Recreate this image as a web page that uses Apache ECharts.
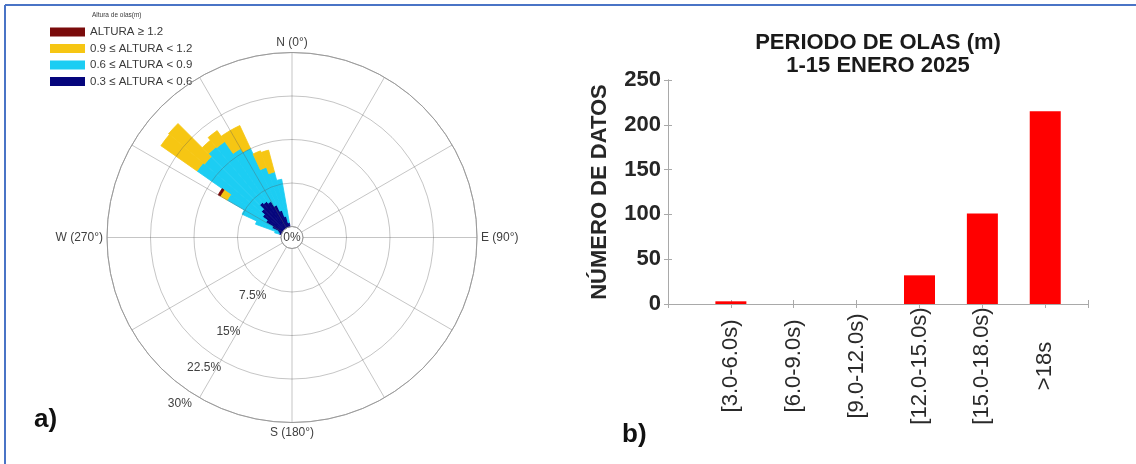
<!DOCTYPE html>
<html>
<head>
<meta charset="utf-8">
<script src="https://cdn.jsdelivr.net/npm/echarts@6/dist/echarts.min.js"></script>
<style>
  html, body { margin: 0; padding: 0; background: #ffffff; }
  #main { width: 1136px; height: 464px; }
</style>
</head>
<body>
<div id="main"></div>
<script>
// ---- a) Wave-height rose: 5° direction bins, percentage of records per height class ----
const dirBins   = [285, 290, 295, 300, 305, 310, 315, 320, 325, 330, 335, 340, 345];
const h03to06   = [0.4, 0.7, 1.9, 3.3, 4.3, 5.0, 6.0, 5.7, 5.3, 4.3, 3.1, 1.9, 0.7];
const h06to09   = [0.8, 4.1, 5.7, 7.7, 13.8, 12.8, 12.5, 12.6, 10.5, 10.8, 7.9, 7.9, 7.6];
const h09to12   = [0, 0, 0, 1.4, 7.6, 8.1, 1.5, 2.3, 3.6, 4.3, 3.0, 3.9, 0];
const h12plus   = [0, 0, 0, 0.4, 0, 0, 0, 0, 0, 0, 0, 0, 0];
const heightClasses = ['0.3 ≤ ALTURA < 0.6', '0.6 ≤ ALTURA < 0.9', '0.9 ≤ ALTURA < 1.2', 'ALTURA ≥ 1.2'];
const radialTicks = [7.5, 15, 22.5, 30];
const compassLabels = { 0: 'N (0°)', 90: 'E (90°)', 180: 'S (180°)', 270: 'W (270°)' };

// ---- b) Wave-period histogram ----
const periodClasses = ['[3.0-6.0s)', '[6.0-9.0s)', '[9.0-12.0s)', '[12.0-15.0s)', '[15.0-18.0s)', '>18s'];
const periodCounts  = [3, 0, 0, 32, 101, 215];

const FONT = 'Liberation Sans, Arial, Helvetica, sans-serif';
const ROSE_CENTER = [292, 237.5];
const ROSE_RADIUS = [11, 185];
const BIN_WIDTH = 5;

const bandColors = ['#05057c', '#1ccdf3', '#f6c613', '#7a0b0b'];
const bandValues = [h03to06, h06to09, h09to12, h12plus];

// Stacked sectors: [binStart, base, top] per height class
function sectorRows(bandIdx) {
  const rows = [];
  dirBins.forEach((b, j) => {
    const v = bandValues[bandIdx][j];
    if (!(v > 0)) return;
    let base = 0;
    for (let k = 0; k < bandIdx; k++) base += bandValues[k][j];
    rows.push([b, base, base + v]);
  });
  return rows;
}

function renderSector(params, api) {
  const cs = params.coordSys;
  const cx = cs.cx, cy = cs.cy;
  const a0 = api.value(0), a1 = a0 + BIN_WIDTH;
  const pIn  = api.coord([api.value(1), a0]);
  const pOut = api.coord([api.value(2), a0]);
  const pEnd = api.coord([api.value(2), a1]);
  const r0 = Math.hypot(pIn[0] - cx, pIn[1] - cy);
  const r = Math.hypot(pOut[0] - cx, pOut[1] - cy);
  const t0 = Math.atan2(pOut[1] - cy, pOut[0] - cx);
  const t1 = Math.atan2(pEnd[1] - cy, pEnd[0] - cx);
  const fill = api.visual('color');
  return {
    type: 'sector',
    shape: { cx: cx, cy: cy, r0: r0, r: r, startAngle: t0, endAngle: t1, clockwise: true },
    // stroke in the fill colour closes the anti-aliasing seams between neighbouring sectors
    style: { fill: fill, stroke: fill, lineWidth: 0.8 }
  };
}

const roseSeries = heightClasses.map((name, i) => ({
  type: 'custom',
  name: name,
  coordinateSystem: 'polar',
  polarIndex: 0,
  data: sectorRows(i),
  encode: { angle: 0, radius: [1, 2] },
  renderItem: renderSector,
  itemStyle: { color: bandColors[i] },
  z: 2
}));

const gridGray = 'rgba(90,90,90,0.35)';
const frameGray = '#a9a9a9';

const chart = echarts.init(document.getElementById('main'), null, { renderer: 'canvas' });

chart.setOption({
  animation: false,
  backgroundColor: '#ffffff',
  textStyle: { fontFamily: FONT },
  legend: {
    data: heightClasses.map((n, i) => ({ name: n, itemStyle: { color: bandColors[i] } })).reverse(),
    orient: 'vertical',
    left: 50,
    top: 26,
    padding: 0,
    itemWidth: 35,
    itemHeight: 9,
    itemGap: 4.5,
    icon: 'rect',
    selectedMode: false,
    textStyle: { fontSize: 11.5, lineHeight: 11, color: '#3a3a3a', fontFamily: FONT }
  },
  polar: [{ center: ROSE_CENTER, radius: ROSE_RADIUS }],
  angleAxis: [
    {
      polarIndex: 0,
      type: 'value',
      min: 0,
      max: 360,
      interval: 30,
      startAngle: 90,
      clockwise: true,
      z: 10,
      axisLine: { show: true, lineStyle: { color: '#9a9a9a', width: 1 } },
      axisTick: { show: false },
      splitLine: { show: true, lineStyle: { color: gridGray, width: 1 } },
      axisLabel: {
        margin: 4,
        fontSize: 12,
        color: '#404040',
        fontFamily: FONT,
        formatter: v => compassLabels[v] || ''
      }
    }
  ],
  radiusAxis: [
    {
      polarIndex: 0,
      type: 'value',
      min: 0,
      max: 30,
      interval: 7.5,
      z: 10,
      axisLine: { show: false },
      axisTick: { show: false },
      axisLabel: { show: false },
      splitLine: { show: true, lineStyle: { color: gridGray, width: 1 } }
    }
  ],
  grid: [{ left: 668, right: 48, top: 80, bottom: 160, containLabel: false }],
  xAxis: [
    {
      gridIndex: 0,
      type: 'value',
      position: 'bottom',
      min: 0,
      max: 6.68,
      interval: 1,
      axisLine: { show: true, lineStyle: { color: frameGray } },
      axisTick: { show: true, inside: true, length: 4, lineStyle: { color: frameGray } },
      splitLine: { show: false },
      axisLabel: {
        rotate: 90,
        align: 'center',
        verticalAlign: 'middle',
        margin: 62,
        fontSize: 22,
        color: '#2a2a2a',
        fontFamily: FONT,
        formatter: v => (Number.isInteger(v) && v >= 1 && v <= periodClasses.length) ? periodClasses[v - 1] : ''
      }
    },
    {
      gridIndex: 0,
      type: 'value',
      position: 'top',
      min: 0,
      max: 6.68,
      interval: 1,
      axisLine: { show: true, lineStyle: { color: frameGray } },
      axisTick: { show: true, inside: true, length: 4, lineStyle: { color: frameGray } },
      splitLine: { show: false },
      axisLabel: { show: false }
    }
  ],
  yAxis: [
    {
      gridIndex: 0,
      type: 'value',
      position: 'left',
      min: 0,
      max: 250,
      interval: 50,
      axisLine: { show: true, lineStyle: { color: frameGray } },
      axisTick: { show: true, inside: true, length: 4, lineStyle: { color: frameGray } },
      splitLine: { show: false },
      axisLabel: { fontSize: 22, fontWeight: 'bold', color: '#262626', margin: 7, fontFamily: FONT },
      name: 'NÚMERO DE DATOS',
      nameLocation: 'middle',
      nameRotate: 90,
      nameGap: 57,
      nameTextStyle: { fontSize: 22, fontWeight: 'bold', color: '#262626', fontFamily: FONT }
    },
    {
      gridIndex: 0,
      type: 'value',
      position: 'right',
      min: 0,
      max: 250,
      interval: 50,
      axisLine: { show: true, lineStyle: { color: frameGray } },
      axisTick: { show: true, inside: true, length: 4, lineStyle: { color: frameGray } },
      splitLine: { show: false },
      axisLabel: { show: false }
    }
  ],
  series: roseSeries.concat([
    {
      type: 'bar',
      name: 'Número de datos',
      xAxisIndex: 0,
      yAxisIndex: 0,
      barWidth: 31,
      data: periodCounts.map((v, i) => [i + 1, v]),
      itemStyle: { color: '#ff0000' }
    }
  ])
});

// Radial percentage labels along the 214° ray, just outside each ring
const radialLabelAngle = 214;
const radialLabelOffset = 2.7;
const radialLabels = radialTicks.map(t => {
  const p = chart.convertToPixel({ polarIndex: 0 }, [t + radialLabelOffset, radialLabelAngle]);
  return {
    type: 'text',
    x: p[0],
    y: p[1],
    z: 20,
    style: {
      text: t + '%',
      font: '12px ' + FONT,
      fill: '#404040',
      align: 'center', verticalAlign: 'middle',
      textAlign: 'center', textVerticalAlign: 'middle'
    }
  };
});

function label(text, x, y, font, fill, align) {
  return {
    type: 'text', x: x, y: y, z: 20,
    style: {
      text: text, font: font, fill: fill,
      align: align, verticalAlign: 'middle',
      textAlign: align, textVerticalAlign: 'middle'
    }
  };
}

chart.setOption({
  graphic: [
    // page frame
    { type: 'line', shape: { x1: 5, y1: 5, x2: 1136, y2: 5 }, style: { stroke: '#4a74c6', lineWidth: 2 }, z: 30 },
    { type: 'line', shape: { x1: 5, y1: 5, x2: 5, y2: 464 }, style: { stroke: '#4a74c6', lineWidth: 2 }, z: 30 },
    label('Altura de olas(m)', 92, 15, '6.5px ' + FONT, '#3a3a3a', 'left'),
    label('0%', ROSE_CENTER[0], ROSE_CENTER[1] + 0.5, '12px ' + FONT, '#404040', 'center'),
    label('PERIODO DE OLAS (m)', 878, 43, 'bold 22px ' + FONT, '#1a1a1a', 'center'),
    label('1-15 ENERO 2025', 878, 66, 'bold 22px ' + FONT, '#1a1a1a', 'center'),
    label('a)', 34, 420, 'bold 26px ' + FONT, '#111111', 'left'),
    label('b)', 622, 435, 'bold 26px ' + FONT, '#111111', 'left')
  ].concat(radialLabels)
});
</script>
</body>
</html>
